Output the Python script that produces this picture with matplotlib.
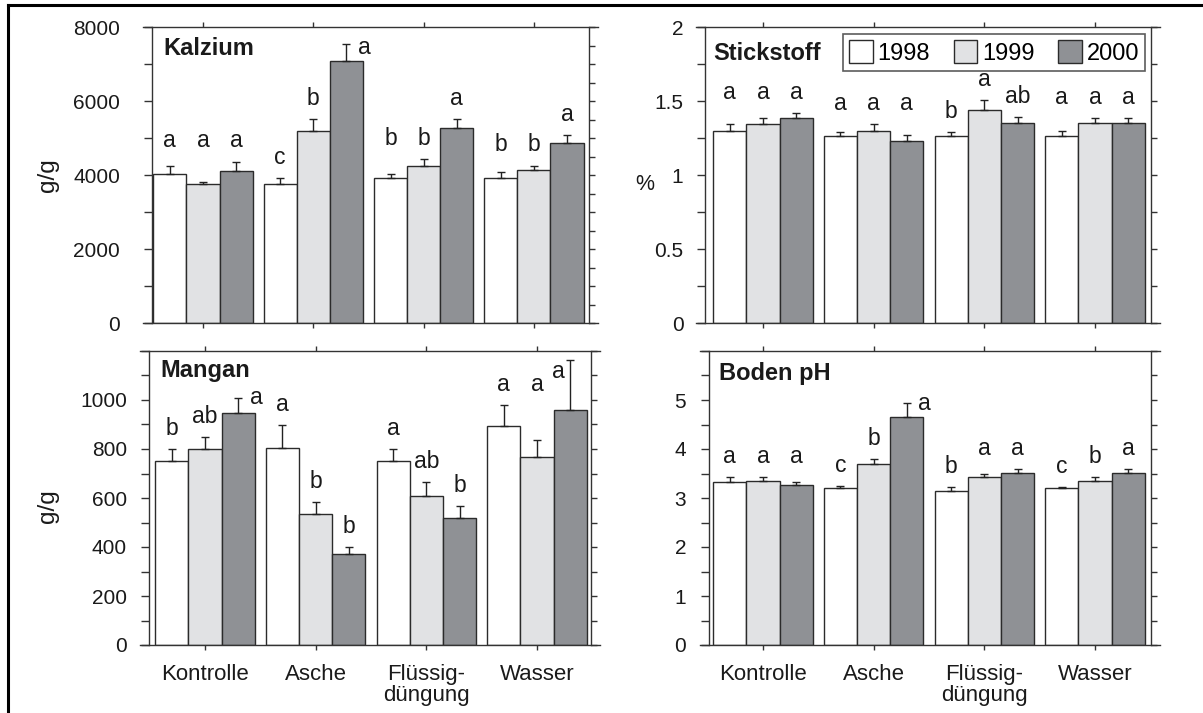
import numpy as np
import matplotlib.pyplot as plt
from matplotlib.lines import Line2D
from matplotlib.ticker import FixedLocator, FuncFormatter

plt.rcParams['font.family'] = ['Liberation Sans', 'DejaVu Sans']

W, H = 1203, 713

categories = ["Kontrolle", "Asche", "Flüssig-\ndüngung", "Wasser"]
years = ["1998", "1999", "2000"]
bar_colors = ["white", "#e1e2e4", "#8f9195"]

# Kalzium (g/g), rows = 1998, 1999, 2000
ca_mean = [[4027, 3757, 3910, 3910],
           [3757, 5187, 4252, 4135],
           [4108, 7074, 5267, 4854]]
ca_err = [[225, 153, 117, 180],
          [63, 314, 179, 117],
          [252, 459, 234, 216]]
ca_sig = [["a", "c", "b", "b"],
          ["a", "b", "b", "b"],
          ["a", "a", "a", "a"]]

# Stickstoff (%)
n_mean = [[1.300, 1.263, 1.263, 1.263],
          [1.344, 1.297, 1.438, 1.353],
          [1.382, 1.231, 1.353, 1.353]]
n_err = [[0.045, 0.025, 0.025, 0.034],
         [0.038, 0.047, 0.068, 0.029],
         [0.038, 0.039, 0.038, 0.029]]
n_sig = [["a", "a", "b", "a"],
         ["a", "a", "a", "a"],
         ["a", "a", "ab", "a"]]

# Mangan (g/g)
mn_mean = [[749, 806, 749, 892],
           [802, 535, 608, 768],
           [946, 370, 519, 959]]
mn_err = [[50, 92, 50, 86],
          [48, 50, 56, 68],
          [63, 30, 50, 206]]
mn_sig = [["b", "a", "a", "a"],
          ["ab", "b", "ab", "a"],
          ["a", "b", "b", "a"]]

# Boden pH
ph_mean = [[3.33, 3.21, 3.15, 3.21],
           [3.35, 3.69, 3.42, 3.35],
           [3.27, 4.66, 3.52, 3.52]]
ph_err = [[0.09, 0.03, 0.07, 0.01],
          [0.07, 0.10, 0.08, 0.07],
          [0.06, 0.27, 0.07, 0.07]]
ph_sig = [["a", "c", "b", "c"],
          ["a", "b", "a", "b"],
          ["a", "a", "a", "a"]]

fig = plt.figure(figsize=(W / 100, H / 100), dpi=100)


def add_axes_px(x0, x1, ytop, ybot):
    return fig.add_axes([x0 / W, 1 - ybot / H, (x1 - x0) / W, (ybot - ytop) / H])


def letter_positions(means, errs, sig, g, ymax):
    pad = 0.07 * ymax
    ys, beside = [], []
    for k in range(3):
        top = means[k][g] + errs[k][g]
        y = top + pad
        if k == 2 and y > 0.85 * ymax:
            beside.append(True)
            ys.append(min(top, 0.93 * ymax))
        else:
            beside.append(False)
            ys.append(y)
    # matching neighbouring letters share one height
    changed = True
    while changed:
        changed = False
        for k in range(2):
            if beside[k] or beside[k + 1] or sig[k][g] != sig[k + 1][g]:
                continue
            if ys[k] != ys[k + 1] and abs(ys[k] - ys[k + 1]) < 0.13 * ymax:
                ys[k] = ys[k + 1] = max(ys[k], ys[k + 1])
                changed = True
    return ys, beside


def panel(ax, means, errs, sig, ymax, label_max, major, left_minor, right_step,
          xlim, title, title_xy, bottom_labels, label_pad):
    x = np.arange(len(categories))
    width = 0.3
    for k in range(3):
        pos = x + (k - 1) * width
        ax.bar(pos, means[k], width, color=bar_colors[k], edgecolor="#2b2b2b",
               linewidth=1.0, zorder=2, label=years[k])
        ax.errorbar(pos, means[k], yerr=[np.zeros(4), errs[k]], fmt="none",
                    ecolor="#222222", elinewidth=1.0, capsize=3, capthick=1.0,
                    zorder=3)
    for g in range(4):
        ys, beside = letter_positions(means, errs, sig, g, ymax)
        for k in range(3):
            bx = x[g] + (k - 1) * width
            if beside[k]:
                bx += 0.16 if g < 3 else -0.11
            ax.text(bx, ys[k], sig[k][g], ha="center", va="center",
                    fontsize=16.5, color="#1a1a1a", zorder=4)

    ax.set_xlim(*xlim)
    ax.set_ylim(0, ymax)
    ax.set_xticks(x)
    if bottom_labels:
        ax.set_xticklabels(categories, fontsize=16, color="#1a1a1a")
        for lab in ax.get_xticklabels():
            lab.set_linespacing(1.0)
    else:
        ax.set_xticklabels([])
    ax.tick_params(axis="x", direction="out", top=True, bottom=True,
                   length=3.5, width=1.0, color="#333333", pad=10)

    # labelled ticks stop at label_max, unlabelled ones run to the top
    ax.yaxis.set_major_locator(FixedLocator(np.arange(0, label_max + major / 2, major)))
    ax.yaxis.set_minor_locator(FixedLocator(np.arange(0, ymax + left_minor / 2, left_minor)))
    ax.yaxis.set_major_formatter(FuncFormatter(lambda v, p: "%g" % v))
    ax.tick_params(axis="y", which="both", direction="out", length=6,
                   width=1.0, color="#333333", labelsize=15,
                   labelcolor="#1a1a1a", pad=label_pad)

    sec = ax.secondary_yaxis("right")
    sec.set_yticks(np.arange(0, ymax + right_step / 2, right_step))
    sec.tick_params(axis="y", direction="out", length=4.5, width=1.0,
                    color="#333333", labelright=False)
    sec.spines["right"].set_color("#333333")
    sec.spines["right"].set_linewidth(1.0)

    for side in ["top", "bottom", "right"]:
        ax.spines[side].set_visible(False)
    ax.spines["left"].set_color("#333333")
    ax.spines["left"].set_linewidth(1.0)
    # horizontal axis lines run a little past the frame on both sides
    for yy in (0, 1):
        ax.add_line(Line2D([-0.021, 1.021], [yy, yy], transform=ax.transAxes,
                           color="#333333", linewidth=1.0, clip_on=False))

    ax.text(title_xy[0], title_xy[1], title, transform=ax.transAxes,
            fontsize=17, fontweight="bold", color="#1a1a1a",
            ha="left", va="center")


ax_ca = add_axes_px(152, 589, 27, 323)
ax_n = add_axes_px(705, 1151, 27, 323)
ax_mn = add_axes_px(149, 591, 351, 645)
ax_ph = add_axes_px(709, 1151, 351, 645)

panel(ax_ca, ca_mean, ca_err, ca_sig, 8000, 8000, 2000, 1000, 500,
      (-0.462, 3.499), "Kalzium", (0.025, 0.926), False, 17)
panel(ax_n, n_mean, n_err, n_sig, 2, 2, 0.5, 0.25, 0.25,
      (-0.524, 3.506), "Stickstoff", (0.018, 0.912), False, 9.5)
panel(ax_mn, mn_mean, mn_err, mn_sig, 1200, 1000, 200, 100, 100,
      (-0.506, 3.488), "Mangan", (0.025, 0.935), True, 10)
panel(ax_ph, ph_mean, ph_err, ph_sig, 6, 5, 1, 0.5, 0.5,
      (-0.488, 3.506), "Boden pH", (0.023, 0.922), True, 10.5)

leg = ax_n.legend(loc="upper right", bbox_to_anchor=(0.9865, 0.976), ncol=3,
                  fontsize=17, frameon=True, fancybox=False, borderpad=0.25,
                  handlelength=1.0, handleheight=1.15, handletextpad=0.2,
                  columnspacing=1.0, borderaxespad=0)
leg.get_frame().set_edgecolor("#333333")
leg.get_frame().set_linewidth(1.2)

fig.text(48 / W, 1 - 175 / H, "g/g", rotation=90, fontsize=17.5,
         color="#1a1a1a", ha="center", va="center")
fig.text(48 / W, 1 - 506 / H, "g/g", rotation=90, fontsize=17.5,
         color="#1a1a1a", ha="center", va="center")
fig.text(645 / W, 1 - 185 / H, "%", fontsize=15.5, color="#1a1a1a",
         ha="center", va="center")

# frame around the figure (top and left edges)
fig.add_artist(Line2D([8 / W, 1], [1 - 5 / H, 1 - 5 / H], transform=fig.transFigure,
                      color="black", linewidth=2.2))
fig.add_artist(Line2D([8 / W, 8 / W], [0, 1 - 5 / H], transform=fig.transFigure,
                      color="black", linewidth=2.2))

fig.savefig("out.png", dpi=100)
